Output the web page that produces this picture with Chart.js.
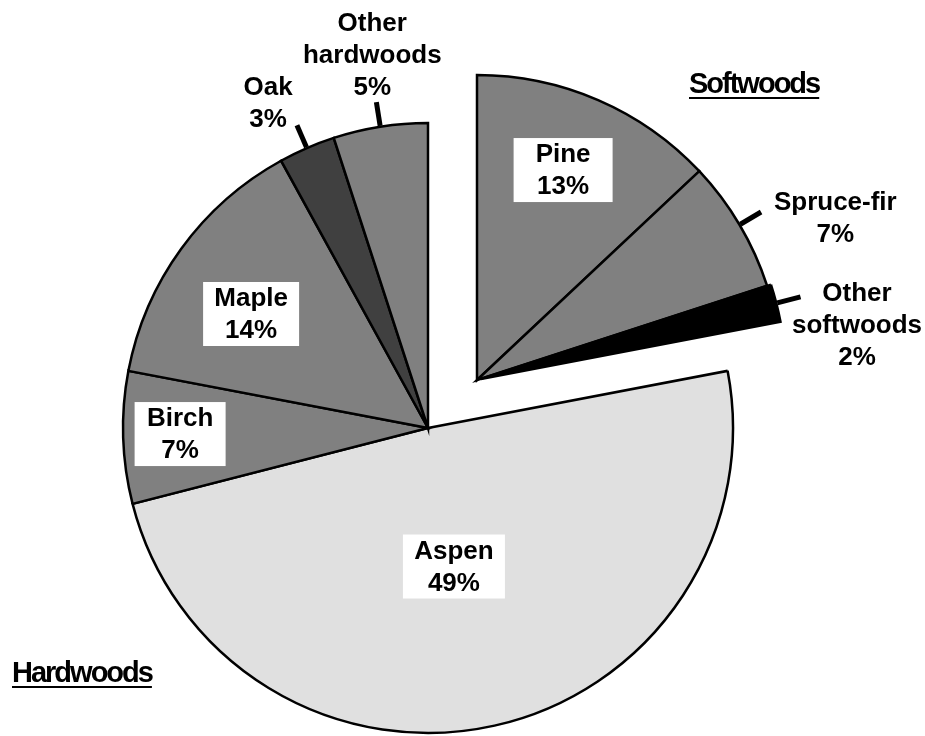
<!DOCTYPE html>
<html>
<head>
<meta charset="utf-8">
<title>Softwoods and hardwoods</title>
<script src="https://cdn.jsdelivr.net/npm/chart.js@4.4.1/dist/chart.umd.min.js"></script>
<style>
    html, body { margin: 0; padding: 0; background: #fff; }
    #wrap { width: 925px; height: 736px; position: relative; }
</style>
</head>
<body>
<div id="wrap"><canvas id="woodChart"></canvas></div>
<script>
// values (percent of total)
const categories = ['Pine', 'Spruce-fir', 'Other softwoods', 'Aspen', 'Birch', 'Maple', 'Oak', 'Other hardwoods'];
const shares = [13, 7, 2, 49, 7, 14, 3, 5];
const softwoodSlices = [0, 1, 2];
const groupTitles = ['Softwoods', 'Hardwoods'];

// look
const sliceColors = ['#808080', '#808080', '#000000', '#e0e0e0', '#808080', '#808080', '#404040', '#808080'];
const softShift = { x: 49, y: -48 };
const extraNudge = { 2: 4 };   // black slice sits a bit further out
const labelFont = 'bold 26px "Liberation Sans", Arial, sans-serif';
const lineH = 32;

// label placement: r = fraction of radius, da = degrees added to slice middle
const labelLayout = [
    { inside: true,  r: 0.744, da: -1.1, boxW: 99 },
    { inside: false, r: 1.289, da: 6.3 },
    { inside: false, r: 1.246, da: 6.2 },
    { inside: true,  r: 0.462, da: 2.0,  boxW: 102 },
    { inside: true,  r: 0.813, da: 0.4,  boxW: 91 },
    { inside: true,  r: 0.69,  da: -3.2, boxW: 96 },
    { inside: false, r: 1.187, da: -2.8 },
    { inside: false, r: 1.236, da: 0.5 }
];

function sliceShift(i, arc) {
    let dx = 0, dy = 0;
    if (softwoodSlices.includes(i)) {
        dx = softShift.x;
        dy = softShift.y;
    }
    if (extraNudge[i]) {
        const mid = (arc.startAngle + arc.endAngle) / 2;
        dx += Math.cos(mid) * extraNudge[i];
        dy += Math.sin(mid) * extraNudge[i];
    }
    return { dx, dy };
}

/**
 * Draw slices with the softwood group pulled out together
 */
const explodePlugin = {
    id: 'explodeGroup',
    beforeDatasetDraw(chart, args) {
        const ctx = chart.ctx;
        args.meta.data.forEach((arc, i) => {
            const s = sliceShift(i, arc);
            ctx.save();
            ctx.translate(s.dx, s.dy);
            arc.draw(ctx);
            ctx.restore();
        });
        return false;
    }
};

/**
 * Slice labels, leader lines and group titles
 */
const labelPlugin = {
    id: 'sliceLabels',
    afterDraw(chart) {
        const ctx = chart.ctx;
        const arcs = chart.getDatasetMeta(0).data;
        ctx.save();
        ctx.font = labelFont;
        ctx.textAlign = 'center';
        ctx.textBaseline = 'middle';

        arcs.forEach((arc, i) => {
            const s = sliceShift(i, arc);
            const cx = arc.x + s.dx;
            const cy = arc.y + s.dy;
            const R = arc.outerRadius;
            const mid = (arc.startAngle + arc.endAngle) / 2;
            const lay = labelLayout[i];
            const a = mid + lay.da * Math.PI / 180;
            const px = cx + Math.cos(a) * R * lay.r;
            const py = cy + Math.sin(a) * R * lay.r;
            const pct = shares[i] + '%';
            const lines = lay.inside ? [categories[i], pct] : categories[i].split(' ').concat([pct]);

            if (lay.inside) {
                const h = lines.length * lineH;
                ctx.fillStyle = '#ffffff';
                ctx.fillRect(px - lay.boxW / 2, py - h / 2, lay.boxW, h);
            } else {
                const mx = Math.cos(mid), my = Math.sin(mid);
                ctx.beginPath();
                ctx.moveTo(cx + mx * (R + 1), cy + my * (R + 1));
                ctx.lineTo(cx + mx * (R + 25), cy + my * (R + 25));
                ctx.lineWidth = 5;
                ctx.strokeStyle = '#000';
                ctx.stroke();
            }

            ctx.fillStyle = '#000';
            lines.forEach((t, k) => {
                ctx.fillText(t, px, py + (k - (lines.length - 1) / 2) * lineH + 1);
            });
        });

        // group titles, tight and underlined
        ctx.font = 'bold 29px "Liberation Sans", Arial, sans-serif';
        ctx.textAlign = 'left';
        ctx.textBaseline = 'alphabetic';
        ctx.letterSpacing = '-2px';
        const titlePos = [{ x: 689, y: 93 }, { x: 12, y: 682 }];
        groupTitles.forEach((t, k) => {
            const p = titlePos[k];
            ctx.fillText(t, p.x, p.y);
            const w = ctx.measureText(t).width;
            ctx.fillRect(p.x, p.y + 4, w, 2);
        });
        ctx.restore();
    }
};

document.addEventListener('DOMContentLoaded', function() {
    const ctx = document.getElementById('woodChart').getContext('2d');
    new Chart(ctx, {
        type: 'pie',
        data: {
            labels: categories,
            datasets: [{
                data: shares,
                backgroundColor: sliceColors,
                borderColor: '#000000',
                borderWidth: 2.5,
                borderJoinStyle: 'miter',
                clip: false
            }]
        },
        options: {
            responsive: true,
            maintainAspectRatio: false,
            animation: false,
            events: [],
            radius: 305,
            layout: {
                padding: { left: 0, right: 69, top: 120, bottom: 0 }
            },
            plugins: {
                legend: { display: false },
                tooltip: { enabled: false }
            }
        },
        plugins: [explodePlugin, labelPlugin]
    });
});
</script>
</body>
</html>
